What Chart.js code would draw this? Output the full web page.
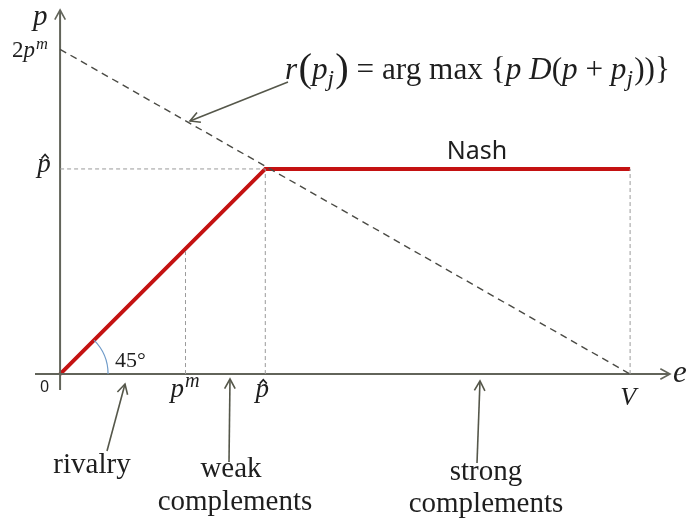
<!DOCTYPE html>
<html>
<head>
<meta charset="utf-8">
<script src="https://cdn.jsdelivr.net/npm/chart.js@4.4.1/dist/chart.umd.min.js"></script>
<style>
  body { margin: 0; background: #fff; }
  #wrap { width: 691px; height: 525px; position: relative; }
</style>
</head>
<body>
<div id="wrap"><canvas id="chartNash"></canvas></div>
<script>
// schematic values (same unit on both axes)
const V = 10;          // end of the e axis segment
const pHat = 3.6;      // kink of the Nash curve
const pMono = 2.2;     // monopoly price p^m
const twoPm = 5.7;     // intercept of r(p_j)

const nashE = [0, pHat, V];
const nashP = [0, pHat, pHat];
const reactE = [0, V];
const reactP = [twoPm, 0];
const eRange = [-0.44, 10.7];
const pRange = [-0.28, 6.39];

const axisColor = "#62645a";
const textColor = "#1e1e1e";
const serif = '"Liberation Serif", "DejaVu Serif", serif';

function pts(xs, ys) {
  return xs.map(function (x, i) { return { x: x, y: ys[i] }; });
}
function seg(x0, y0, x1, y1) {
  return [{ x: x0, y: y0 }, { x: x1, y: y1 }];
}

var guide = {
  borderColor: "#9a9a9a",
  borderWidth: 1,
  borderDash: [4, 3],
  pointRadius: 0,
  showLine: true,
};

// draw a row of text runs: [text, italic, dy, sizeFactor, extraGap]
function runs(ctx, x, y, size, list, measureOnly) {
  list.forEach(function (r) {
    var s = size * (r[3] || 1);
    ctx.font = (r[1] ? "italic " : "") + s + "px " + serif;
    if (!measureOnly) ctx.fillText(r[0], x, y + (r[2] || 0) * size / 25);
    x += ctx.measureText(r[0]).width + (r[4] || 0) * size / 25;
  });
  return x;
}

function arrowHead(ctx, x0, y0, x1, y1, len) {
  var a = Math.atan2(y1 - y0, x1 - x0);
  ctx.beginPath();
  ctx.moveTo(x1 - len * Math.cos(a - 0.5), y1 - len * Math.sin(a - 0.5));
  ctx.lineTo(x1, y1);
  ctx.lineTo(x1 - len * Math.cos(a + 0.5), y1 - len * Math.sin(a + 0.5));
  ctx.stroke();
}
function arrow(ctx, x0, y0, x1, y1) {
  ctx.beginPath();
  ctx.moveTo(x0, y0);
  ctx.lineTo(x1, y1);
  ctx.stroke();
  arrowHead(ctx, x0, y0, x1, y1, 11);
}
function pHatLabel(ctx, x, y, size) {
  ctx.font = "italic " + size + "px " + serif;
  ctx.textAlign = "center";
  ctx.fillText("p", x, y);
  ctx.textAlign = "left";
  var top = y - size * 0.46 - 5;
  ctx.save();
  ctx.strokeStyle = textColor;
  ctx.lineWidth = 1.6;
  ctx.beginPath();
  ctx.moveTo(x - 2.5, top + 4);
  ctx.lineTo(x + 1, top);
  ctx.lineTo(x + 4.5, top + 4);
  ctx.stroke();
  ctx.restore();
}

const decorations = {
  id: "decorations",
  afterDatasetsDraw: function (chart) {
    var ctx = chart.ctx;
    var sx = chart.scales.x, sy = chart.scales.y;
    var X = function (v) { return sx.getPixelForValue(v); };
    var Y = function (v) { return sy.getPixelForValue(v); };
    var ox = X(0), oy = Y(0);

    ctx.save();
    // axis arrow heads
    ctx.strokeStyle = axisColor;
    ctx.lineWidth = 1.6;
    arrowHead(ctx, ox, oy, X(eRange[1]), oy, 11);
    arrowHead(ctx, ox, oy, ox, Y(pRange[1]), 11);

    // 45 degree arc
    ctx.strokeStyle = "#6f9bc9";
    ctx.lineWidth = 1.2;
    ctx.beginPath();
    ctx.arc(ox, oy, 48, -Math.PI / 4, 0);
    ctx.stroke();

    // annotation arrows
    ctx.strokeStyle = "#55574a";
    ctx.lineWidth = 1.6;
    arrow(ctx, 288, 82, 190, 121);
    arrow(ctx, 107, 451, 125, 384);
    arrow(ctx, 229, 462, 230, 379);
    arrow(ctx, 477, 463, 480, 381);

    ctx.fillStyle = textColor;
    ctx.textBaseline = "alphabetic";
    ctx.textAlign = "left";

    // axis names
    runs(ctx, ox - 27, 25, 29, [["p", true]]);
    runs(ctx, X(eRange[1]) + 3, oy + 8, 31, [["e", true]]);
    ctx.font = '16px "Noto Sans", sans-serif';
    ctx.fillText("0", ox - 20, oy + 18);

    // y labels
    runs(ctx, 12, Y(twoPm) + 8, 23, [["2"], ["p", true, 0, 1, 1], ["m", true, -9, 0.72]]);
    pHatLabel(ctx, ox - 16, Y(pHat) + 3, 27);

    // x labels
    runs(ctx, X(pMono) - 15, oy + 23, 27, [["p", true, 0, 1, 1], ["m", true, -9, 0.75]]);
    pHatLabel(ctx, X(pHat) - 3, oy + 23, 27);
    ctx.textAlign = "center";
    runs(ctx, X(V) - 2, oy + 31, 26, [["V", true]]);
    ctx.textAlign = "left";

    // 45 degree
    ctx.font = "22px " + serif;
    ctx.fillText("45\u00B0", ox + 55, oy - 7);

    // Nash
    ctx.font = '25px "Noto Sans", sans-serif';
    ctx.textAlign = "center";
    ctx.fillText("Nash", 477, Y(pHat) - 10);

    // bottom labels
    ctx.font = "29px " + serif;
    ctx.fillText("rivalry", 92, 473);
    ctx.fillText("weak", 231, 477);
    ctx.fillText("complements", 235, 510);
    ctx.fillText("strong", 486, 480);
    ctx.fillText("complements", 486, 512);
    ctx.textAlign = "left";

    // reaction function formula, stretched to its width in the figure
    var parts = [["r", true, 0, 1, 1], ["(", false, 2, 1.3], ["p", true], ["j", true, 6, 0.75, 1], [")", false, 2, 1.3],
      [" = arg max {"], ["p", true], [" "], ["D", true], ["("], ["p", true], [" + "], ["p", true], ["j", true, 6, 0.75, 1], ["))}"]];
    var fs = 31;
    var w = runs(ctx, 0, 0, fs, parts, true);
    ctx.save();
    ctx.translate(285, 0);
    ctx.scale(385 / w, 1);
    runs(ctx, 0, 79, fs, parts);
    ctx.restore();
    ctx.restore();
  },
};

new Chart(document.getElementById("chartNash"), {
  type: "scatter",
  data: {
    datasets: [
      Object.assign({ data: seg(0, pHat, pHat, pHat) }, guide),
      Object.assign({ data: seg(pHat, 0, pHat, pHat) }, guide),
      Object.assign({ data: seg(pMono, 0, pMono, pMono) }, guide),
      Object.assign({ data: seg(V, 0, V, pHat) }, guide),
      {
        data: pts(reactE, reactP),
        showLine: true,
        borderColor: "#4a4a44",
        borderWidth: 1.4,
        borderDash: [7, 5],
        pointRadius: 0,
      },
      {
        data: seg(eRange[0], 0, eRange[1], 0),
        showLine: true,
        borderColor: axisColor,
        borderWidth: 2,
        pointRadius: 0,
      },
      {
        data: seg(0, pRange[0], 0, pRange[1]),
        showLine: true,
        borderColor: axisColor,
        borderWidth: 2,
        pointRadius: 0,
      },
      {
        data: pts(nashE, nashP),
        showLine: true,
        borderColor: "#c41212",
        borderWidth: 4,
        pointRadius: 0,
      },
    ],
  },
  options: {
    responsive: true,
    maintainAspectRatio: false,
    animation: false,
    layout: { padding: { left: 35, right: 21, top: 10, bottom: 135 } },
    plugins: {
      legend: { display: false },
      tooltip: { enabled: false },
      title: { display: false },
    },
    scales: {
      x: { type: "linear", min: eRange[0], max: eRange[1], display: false },
      y: { type: "linear", min: pRange[0], max: pRange[1], display: false },
    },
  },
  plugins: [decorations],
});
</script>
</body>
</html>
